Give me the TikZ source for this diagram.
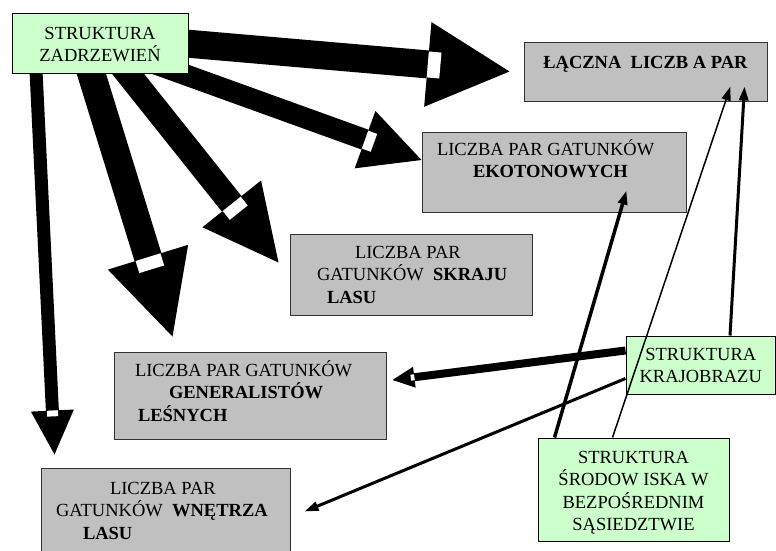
\documentclass[tikz,border=0pt]{standalone}
\usepackage{fontspec}
\setmainfont{Liberation Serif}
\usetikzlibrary{arrows.meta,calc,backgrounds}
\definecolor{boxgreen}{HTML}{CCFFCC}
\definecolor{boxgrey}{HTML}{C0C0C0}
% text block of a box: width, height, top gap, alignment, lines
\newcommand\inbox[5]{\parbox[c][#2pt][t]{#1pt}{\lineskiplimit=-\maxdimen\vspace*{#3pt}#4\strut#5}}
% block arrow: from, to, shaft, head width, head length
\newcommand\blockarrow[5]{%
  \draw[line width=#3pt,-{Triangle[length=#5pt,width=#4pt,line width=0pt]}] (#1) -- (#2);
  \draw[white,line width=#3pt-2pt] ($(#2)!#5pt!(#1)$) -- ($(#2)!#5pt-0.45*#3pt!(#1)$);}

\begin{document}
\begin{tikzpicture}[x=1pt,y=-1pt,
  gbox/.style={draw=black!80,line width=1pt,fill=boxgrey,inner sep=0pt,font=\fontsize{18.5}{22.5}\selectfont},
  zbox/.style={gbox,draw=black,fill=boxgreen},
  tarr/.style={-{Triangle[length=14pt,width=9pt]}}]
\useasboundingbox (0,0) rectangle (776,550);
\node[zbox] (zadrz) at (100,43) {\inbox{176}{60}{10.25}{\centering}{STRUKTURA\\ZADRZEWIEŃ}};
\node[gbox] (lacz) at (645.5,71.5) {\inbox{243}{59}{10.25}{\centering}{\textbf{ŁĄCZNA~ LICZB A PAR}}};
\node[gbox] (ekot) at (554,172) {\inbox{264}{80}{7.25}{\raggedright}{\hspace*{15pt}LICZBA PAR GATUNKÓW\\\hspace*{51pt}\textbf{EKOTONOWYCH}}};
\node[gbox] (skraj) at (411,274.5) {\inbox{242}{81}{8.25}{\raggedright}{\hspace*{65pt}LICZBA PAR\\\hspace*{27pt}GATUNKÓW~ \textbf{SKRAJU}\\\hspace*{37pt}\textbf{LASU}}};
\node[gbox] (gener) at (250,395.5) {\inbox{272}{87}{8.25}{\raggedright}{\hspace*{21pt}LICZBA PAR GATUNKÓW\\\hspace*{55pt}\textbf{GENERALISTÓW}\\\hspace*{24pt}\textbf{LEŚNYCH}}};
\node[gbox] (wnetrz) at (165.5,516.5) {\inbox{249}{97}{10.25}{\raggedright}{\hspace*{69pt}LICZBA PAR\\\hspace*{15pt}GATUNKÓW~ \textbf{WNĘTRZA}\\\hspace*{42pt}\textbf{LASU}}};
\node[zbox] (kraj) at (700.75,365) {\inbox{149.5}{58}{8.25}{\centering}{STRUKTURA\\KRAJOBRAZU}};
\node[zbox] (srod) at (633.5,489.5) {\inbox{191}{103}{9.25}{\centering}{STRUKTURA\\ŚRODOW ISKA W\\BEZPOŚREDNIM\\SĄSIEDZTWIE}};

% ends of the big arrows
\coordinate (z1) at ($(zadrz.center)+(80,0)$);
\coordinate (z2) at ($(zadrz.center)+(50,19)$);
\coordinate (z3) at ($(zadrz.center)+(9,7)$);
\coordinate (z4) at ($(zadrz.center)+(-16,7)$);
\coordinate (z5) at ($(zadrz.center)+(-65,7)$);
\coordinate (e1) at ($(lacz.west)+(-14,0)$);
\coordinate (e2) at ($(ekot.west)+(0,-12)$);
\coordinate (e3) at ($(skraj.north west)+(-11,29)$);
\coordinate (e4) at ($(gener.north west)+(59,-15)$);
\coordinate (e5) at ($(wnetrz.north west)+(14,-13)$);
\begin{scope}[on background layer]
\blockarrow{z1}{e1}{28}{85}{82}
\blockarrow{z2}{e2}{21}{61}{60}
\blockarrow{z3}{e3}{25}{75}{75}
\blockarrow{z4}{e4}{28}{84}{83}
\blockarrow{z5}{e5}{13}{43}{44}
\end{scope}

% thin arrows
\coordinate (kg) at ($(kraj.north west)+(0,15)$);
\coordinate (kgE) at ($(gener.east)+(6,-15.5)$);
\blockarrow{kg}{kgE}{8}{21}{22}
\coordinate (kwE) at ($(wnetrz.north east)+(14,44)$);
\coordinate (klE) at ($(lacz.south east)+(-23,-15)$);
\coordinate (seE) at ($(ekot.south east)+(-60,-22)$);
\coordinate (slE) at ($(lacz.south east)+(-37,-15)$);
\draw[tarr,line width=3pt] ($(kraj.south west)+(0,-16)$) -- (kwE);
\draw[tarr,line width=3pt] ($(kraj.north)+(29.25,0)$) -- (klE);
\draw[tarr,line width=3.5pt] ($(srod.north west)+(17,0)$) -- (seE);
\draw[tarr,line width=1.5pt] ($(srod.north west)+(75,0)$) -- (slE);
\end{tikzpicture}
\end{document}
